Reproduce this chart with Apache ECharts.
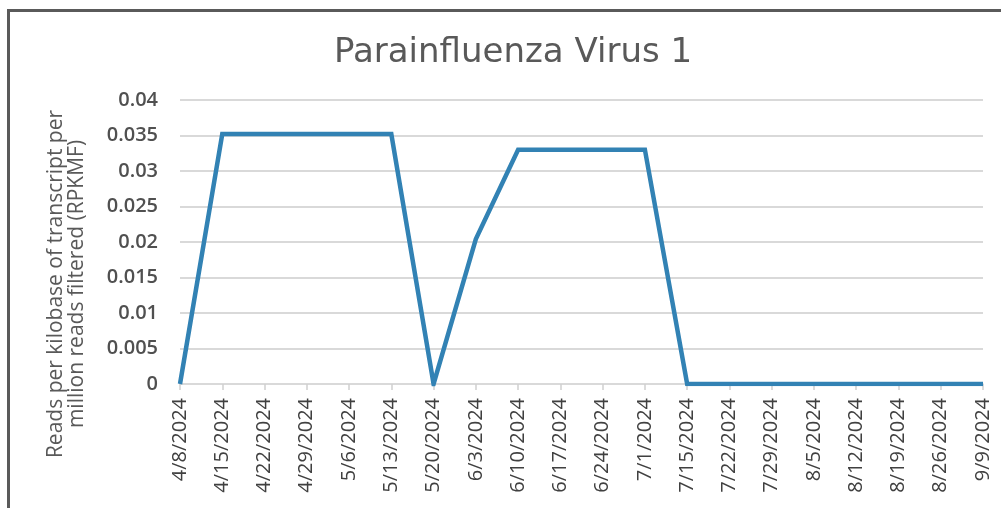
<!DOCTYPE html>
<html>
<head>
<meta charset="utf-8">
<title>Parainfluenza Virus 1</title>
<style type="text/css">
html, body {
	margin: 0;
	padding: 0;
	background: #fff;
}
#main {
	width: 1001px;
	height: 508px;
}
</style>
</head>
<body>
<div id="main"></div>
<script src="https://cdn.jsdelivr.net/npm/echarts@6/dist/echarts.min.js"></script>
<script type="text/javascript">
var dates = ['4/8/2024', '4/15/2024', '4/22/2024', '4/29/2024', '5/6/2024', '5/13/2024', '5/20/2024',
	'6/3/2024', '6/10/2024', '6/17/2024', '6/24/2024', '7/1/2024', '7/15/2024', '7/22/2024',
	'7/29/2024', '8/5/2024', '8/12/2024', '8/19/2024', '8/26/2024', '9/9/2024'];
var rpkmf = [0, 0.0352, 0.0352, 0.0352, 0.0352, 0.0352, 0,
	0.0204, 0.033, 0.033, 0.033, 0.033, 0, 0,
	0, 0, 0, 0, 0, 0];
var yTicks = [0, 0.005, 0.01, 0.015, 0.02, 0.025, 0.03, 0.035, 0.04];

var myChart = echarts.init(document.getElementById('main'));

var option = {
	backgroundColor: '#fff',
	animation: false,
	title: {
		text: 'Parainfluenza Virus 1',
		left: 508,
		top: 31,
		textAlign: 'center',
		textStyle: {
			fontFamily: 'DejaVu Sans',
			fontSize: 34,
			fontWeight: 'normal',
			color: '#595959'
		}
	},
	// frame of the original picture (top and left edges only)
	graphic: [
		{type: 'rect', shape: {x: 7, y: 9, width: 1001, height: 3}, style: {fill: '#5a5a5a'}},
		{type: 'rect', shape: {x: 7, y: 9, width: 3, height: 508}, style: {fill: '#5a5a5a'}}
	],
	grid: {
		left: 180,
		right: 18,
		top: 100,
		bottom: 124,
		containLabel: false
	},
	xAxis: {
		type: 'category',
		boundaryGap: false,
		data: dates,
		axisLine: {lineStyle: {color: '#d9d9d9', width: 1.5}},
		axisTick: {show: true, length: 6, lineStyle: {color: '#d0d0d0', width: 1.5}},
		axisLabel: {
			rotate: 90,
			interval: 0,
			margin: 14,
			fontFamily: 'Open Sans',
			fontSize: 20,
			color: '#404040'
		}
	},
	yAxis: {
		type: 'value',
		min: yTicks[0],
		max: yTicks[yTicks.length - 1],
		interval: 0.005,
		name: 'Reads per kilobase of transcript per\nmillion reads filtered (RPKMF)',
		nameLocation: 'middle',
		nameGap: 92,
		nameTextStyle: {
			fontFamily: 'Open Sans',
			fontSize: 21,
			color: '#595959',
			lineHeight: 21,
			padding: [0, 84, 0, 0]
		},
		axisLine: {show: false},
		axisTick: {show: false},
		axisLabel: {
			margin: 22,
			fontFamily: 'Open Sans',
			fontSize: 20,
			fontWeight: 600,
			color: '#505050'
		},
		splitLine: {lineStyle: {color: '#d9d9d9', width: 2}}
	},
	series: [
		{
			type: 'line',
			data: rpkmf,
			symbol: 'none',
			lineStyle: {color: '#3282b4', width: 4.5, join: 'miter'}
		}
	]
};

myChart.setOption(option);
</script>
</body>
</html>
